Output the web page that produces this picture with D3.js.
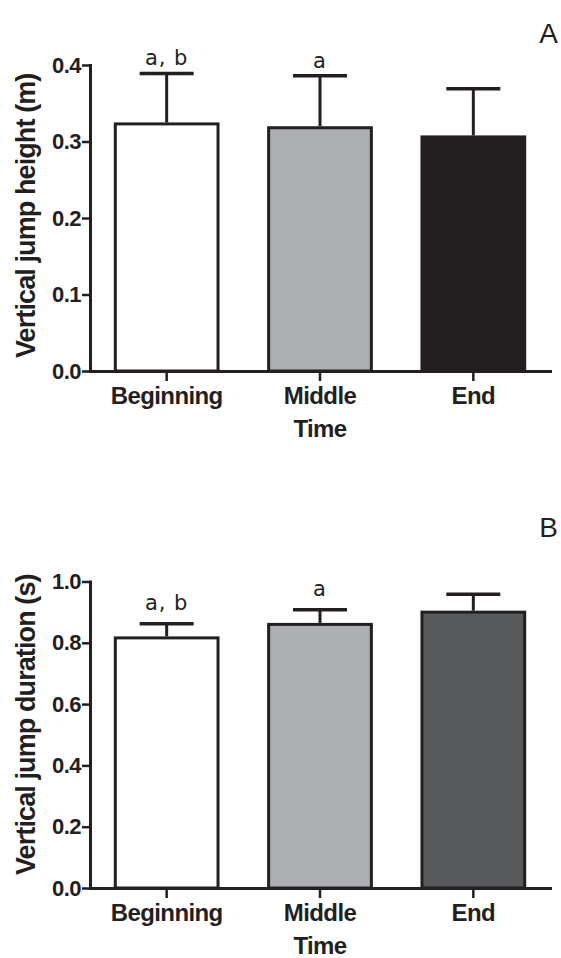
<!DOCTYPE html>
<html>
<head>
<meta charset="utf-8">
<script src="https://cdn.jsdelivr.net/npm/d3@7"></script>
<style>
  body { margin: 0; background: #fff; }
  svg { display: block; }
</style>
</head>
<body>
<div id="chart"></div>
<script>
// data
var categories = ["Beginning", "Middle", "End"];

var heightMean = [0.323, 0.318, 0.306];
var heightSD = [0.066, 0.068, 0.063];
var heightTicks = [0, 0.1, 0.2, 0.3, 0.4];
var heightLetters = ["a, b", "a", ""];

var durationMean = [0.816, 0.860, 0.900];
var durationSD = [0.046, 0.048, 0.058];
var durationTicks = [0, 0.2, 0.4, 0.6, 0.8, 1.0];
var durationLetters = ["a, b", "a", ""];

var width = 561, height = 958;
var ink = "#231f20";

var svg = d3.select("#chart")
    .append("svg")
    .attr("width", width)
    .attr("height", height)

svg.append("rect")
    .attr("width", width)
    .attr("height", height)
    .attr("fill", "#fff")

var x = d3.scaleBand()
    .domain(categories)
    .range([90, 550])
    .paddingInner(0.33)
    .paddingOuter(0.165)

function drawPanel(p) {
    var g = svg.append("g")
    var y = d3.scaleLinear()
        .domain([0, d3.max(p.ticks)])
        .range([p.bottom, p.top])

    var rows = categories.map(function (c, i) {
        return { cat: c, mean: p.mean[i], sd: p.sd[i], fill: p.fills[i], letter: p.letters[i] }
    })

    // bars
    g.selectAll(".bar")
        .data(rows)
        .enter()
        .append("rect")
        .attr("x", function (d) { return x(d.cat) })
        .attr("y", function (d) { return y(d.mean) })
        .attr("width", x.bandwidth())
        .attr("height", function (d) { return y(0) - y(d.mean) })
        .attr("fill", function (d) { return d.fill })
        .attr("stroke", ink)
        .attr("stroke-width", 3)

    // upper error bars
    var cx = function (d) { return x(d.cat) + x.bandwidth() / 2 }
    g.selectAll(".err")
        .data(rows)
        .enter()
        .append("line")
        .attr("x1", cx).attr("x2", cx)
        .attr("y1", function (d) { return y(d.mean) - 1.5 })
        .attr("y2", function (d) { return y(d.mean + d.sd) })
        .attr("stroke", ink)
        .attr("stroke-width", 3)
    g.selectAll(".cap")
        .data(rows)
        .enter()
        .append("line")
        .attr("x1", function (d) { return cx(d) - 27 })
        .attr("x2", function (d) { return cx(d) + 27 })
        .attr("y1", function (d) { return y(d.mean + d.sd) })
        .attr("y2", function (d) { return y(d.mean + d.sd) })
        .attr("stroke", ink)
        .attr("stroke-width", 3.5)

    // significance letters
    g.selectAll(".sig")
        .data(rows)
        .enter()
        .append("text")
        .attr("x", cx)
        .attr("y", function (d) { return y(d.mean + d.sd) - p.letterGap })
        .attr("text-anchor", "middle")
        .style("font-family", "DejaVu Sans")
        .style("font-size", "21px")
        .style("letter-spacing", "1px")
        .attr("fill", ink)
        .text(function (d) { return d.letter })

    // y axis
    var yAxis = g.append("g")
        .attr("transform", "translate(90,0)")
        .call(d3.axisLeft(y).tickValues(p.ticks).tickFormat(d3.format(".1f")).tickSize(8).tickSizeOuter(0).tickPadding(1))
    // x axis
    var xAxis = g.append("g")
        .attr("transform", "translate(0," + p.bottom + ")")
        .call(d3.axisBottom(x).tickSize(10).tickSizeOuter(0).tickPadding(6))

    g.selectAll(".domain")
        .attr("stroke", ink)
        .attr("stroke-width", 3)
        .attr("stroke-linecap", "square")
    g.selectAll(".tick line")
        .attr("stroke", ink)
        .attr("stroke-width", 2.5)
    g.selectAll(".tick text")
        .attr("fill", ink)
        .style("font-family", "Liberation Sans, Arial, sans-serif")
        .style("font-weight", "bold")
    yAxis.selectAll(".tick text").style("font-size", "22px").style("letter-spacing", "-0.5px")
    xAxis.selectAll(".tick text").style("font-size", "24px").style("letter-spacing", "-0.6px")

    // axis titles
    g.append("text")
        .attr("transform", "translate(35," + (p.bottom - 13) + ") rotate(-90)")
        .attr("text-anchor", "start")
        .style("font-family", "Liberation Sans, Arial, sans-serif")
        .style("font-weight", "bold")
        .style("font-size", "27px")
        .style("letter-spacing", "-0.9px")
        .attr("fill", ink)
        .text(p.title)

    g.append("text")
        .attr("x", 320)
        .attr("y", p.bottom + 66)
        .attr("text-anchor", "middle")
        .style("font-family", "Liberation Sans, Arial, sans-serif")
        .style("font-weight", "bold")
        .style("font-size", "24px")
        .style("letter-spacing", "-0.6px")
        .attr("fill", ink)
        .text("Time")

    // panel letter
    g.append("text")
        .attr("x", 558)
        .attr("y", p.letterY)
        .attr("text-anchor", "end")
        .style("font-family", "Liberation Sans, Arial, sans-serif")
        .style("font-size", "28px")
        .attr("fill", ink)
        .text(p.label)
}

drawPanel({
    mean: heightMean, sd: heightSD, ticks: heightTicks, letters: heightLetters,
    fills: ["#ffffff", "#aeafb3", "#231f20"],
    top: 65, bottom: 371, letterGap: 8, letterY: 43,
    title: "Vertical jump height (m)", label: "A"
})

drawPanel({
    mean: durationMean, sd: durationSD, ticks: durationTicks, letters: durationLetters,
    fills: ["#ffffff", "#aeafb3", "#58595b"],
    top: 581.5, bottom: 888, letterGap: 14, letterY: 537,
    title: "Vertical jump duration (s)", label: "B"
})
</script>
</body>
</html>
